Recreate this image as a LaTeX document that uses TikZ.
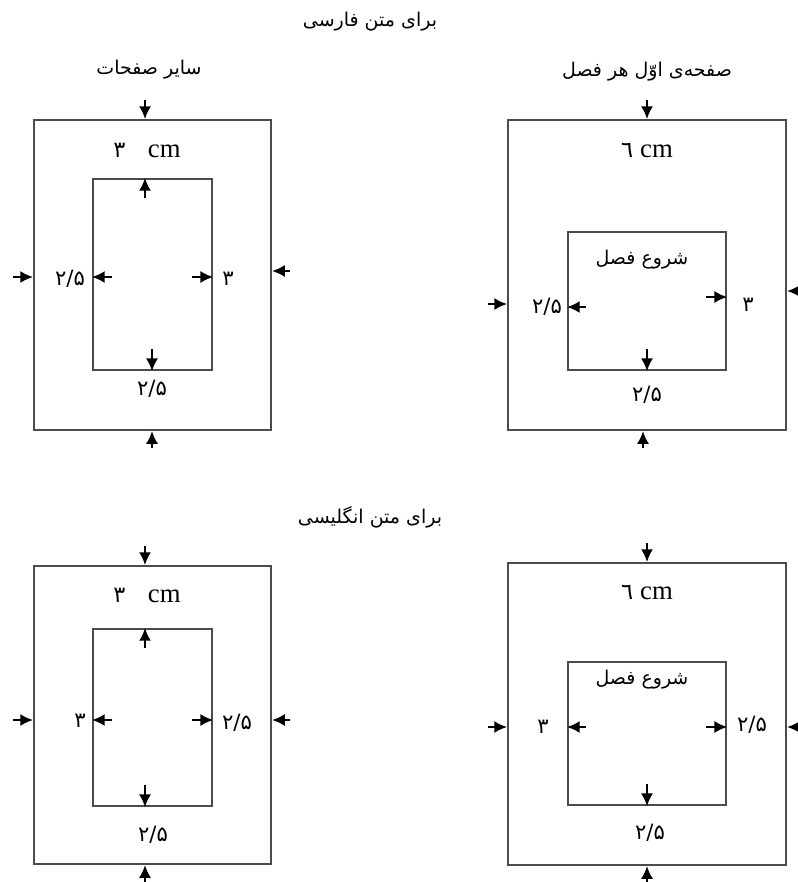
\documentclass[tikz,border=0pt]{standalone}
\usepackage{fontspec}
\setmainfont{Liberation Serif}
\newfontfamily\arabicfont[Script=Arabic]{DejaVu Sans}
\TeXXeTstate=1
\usetikzlibrary{arrows.meta, positioning, calc}

\tikzset{
  page/.style={draw=black!70, line width=1.5pt, inner sep=0pt, anchor=north west},
  margin arrow/.style={-{Latex[length=9pt,width=8.5pt]}, line width=1.3pt},
  fatext/.style={font=\arabicfont\fontsize{13.5}{15}\selectfont},
  numtext/.style={font=\arabicfont\fontsize{15}{17}\selectfont},
}

\begin{document}
\begin{tikzpicture}[x=0.025cm, y=-0.025cm]
\useasboundingbox (0,0) rectangle (797,882);

% Headings
\node[fatext] (hfa) at (370,22) {\beginR برای متن فارسی\endR};
\node[fatext] (hen) at (370,517) {\beginR برای متن انگلیسی\endR};

% ---- Persian, other pages ----
\node[fatext] (tfo) at (149,70) {\beginR سایر صفحات\endR};
\node[page, minimum width=237*0.025cm, minimum height=310*0.025cm] (fo) at (33,119) {};
\node[page, minimum width=119*0.025cm, minimum height=191*0.025cm] (foi) at (92,178) {};
\coordinate (foT) at (145,100);
\coordinate (foB) at (152,448);
\coordinate (foL) at (13,277);
\coordinate (foR) at (290,271);
\coordinate (foiT) at (145,198);
\coordinate (foiL) at (112,277);
\coordinate (foiR) at (192,277);
\coordinate (foiB) at (152,349);
\draw[margin arrow] (foT) -- (foT |- fo.north);
\draw[margin arrow] (foB) -- (foB |- fo.south);
\draw[margin arrow] (foL) -- (foL -| fo.west);
\draw[margin arrow] (foR) -- (foR -| fo.east);
\draw[margin arrow] (foiT) -- (foiT |- foi.north);
\draw[margin arrow] (foiL) -- (foiL -| foi.west);
\draw[margin arrow] (foiR) -- (foiR -| foi.east);
\draw[margin arrow] (foiB) -- (foiB |- foi.south);
\node (foc) at (147,150) {{\arabicfont\fontsize{16}{18}\selectfont ۳}\hspace{16pt}{\fontsize{19}{21}\selectfont cm}};
\node[numtext] (fol) at (70,279) {۲/۵};
\node[numtext] (for) at (228,279) {۳};
\node[numtext] (fob) at (152,389) {۲/۵};

% ---- Persian, first page of chapter ----
\node[fatext] (tff) at (647,72) {\beginR صفحه‌ی اوّل هر فصل\endR};
\node[page, minimum width=278*0.025cm, minimum height=310*0.025cm] (ff) at (507,119) {};
\node[page, minimum width=158*0.025cm, minimum height=138*0.025cm] (ffi) at (567,231) {};
\coordinate (ffT) at (647,100);
\coordinate (ffB) at (643,448);
\coordinate (ffL) at (488,304);
\coordinate (ffR) at (805,291);
\coordinate (ffiL) at (586,307);
\coordinate (ffiR) at (706,297);
\coordinate (ffiB) at (647,349);
\draw[margin arrow] (ffT) -- (ffT |- ff.north);
\draw[margin arrow] (ffB) -- (ffB |- ff.south);
\draw[margin arrow] (ffL) -- (ffL -| ff.west);
\draw[margin arrow] (ffR) -- (ffR -| ff.east);
\draw[margin arrow] (ffiL) -- (ffiL -| ffi.west);
\draw[margin arrow] (ffiR) -- (ffiR -| ffi.east);
\draw[margin arrow] (ffiB) -- (ffiB |- ffi.south);
\node (ffc) at (647,150) {{\arabicfont\fontsize{16}{18}\selectfont ٦}\hspace{5pt}{\fontsize{19}{21}\selectfont cm}};
\node[fatext] (ffs) at (642,260) {\beginR شروع فصل\endR};
\node[numtext] (ffl) at (547,307) {۲/۵};
\node[numtext] (ffr) at (748,305) {۳};
\node[numtext] (ffb) at (647,395) {۲/۵};

% ---- English, other pages ----
\node[page, minimum width=237*0.025cm, minimum height=298*0.025cm] (eo) at (33,565) {};
\node[page, minimum width=119*0.025cm, minimum height=177*0.025cm] (eoi) at (92,628) {};
\coordinate (eoT) at (145,546);
\coordinate (eoB) at (145,884);
\coordinate (eoL) at (13,720);
\coordinate (eoR) at (290,720);
\coordinate (eoiT) at (145,648);
\coordinate (eoiL) at (112,720);
\coordinate (eoiR) at (192,720);
\coordinate (eoiB) at (145,785);
\draw[margin arrow] (eoT) -- (eoT |- eo.north);
\draw[margin arrow] (eoB) -- (eoB |- eo.south);
\draw[margin arrow] (eoL) -- (eoL -| eo.west);
\draw[margin arrow] (eoR) -- (eoR -| eo.east);
\draw[margin arrow] (eoiT) -- (eoiT |- eoi.north);
\draw[margin arrow] (eoiL) -- (eoiL -| eoi.west);
\draw[margin arrow] (eoiR) -- (eoiR -| eoi.east);
\draw[margin arrow] (eoiB) -- (eoiB |- eoi.south);
\node (eoc) at (147,595) {{\arabicfont\fontsize{16}{18}\selectfont ۳}\hspace{16pt}{\fontsize{19}{21}\selectfont cm}};
\node[numtext] (eol) at (80,721) {۳};
\node[numtext] (eor) at (237,723) {۲/۵};
\node[numtext] (eob) at (153,835) {۲/۵};

% ---- English, first page of chapter ----
\node[page, minimum width=278*0.025cm, minimum height=302*0.025cm] (ef) at (507,562) {};
\node[page, minimum width=158*0.025cm, minimum height=143*0.025cm] (efi) at (567,661) {};
\coordinate (efT) at (647,543);
\coordinate (efB) at (647,884);
\coordinate (efL) at (488,727);
\coordinate (efR) at (805,727);
\coordinate (efiL) at (586,727);
\coordinate (efiR) at (706,727);
\coordinate (efiB) at (647,784);
\draw[margin arrow] (efT) -- (efT |- ef.north);
\draw[margin arrow] (efB) -- (efB |- ef.south);
\draw[margin arrow] (efL) -- (efL -| ef.west);
\draw[margin arrow] (efR) -- (efR -| ef.east);
\draw[margin arrow] (efiL) -- (efiL -| efi.west);
\draw[margin arrow] (efiR) -- (efiR -| efi.east);
\draw[margin arrow] (efiB) -- (efiB |- efi.south);
\node (efc) at (647,592) {{\arabicfont\fontsize{16}{18}\selectfont ٦}\hspace{5pt}{\fontsize{19}{21}\selectfont cm}};
\node[fatext] (efs) at (642,680) {\beginR شروع فصل\endR};
\node[numtext] (efl) at (543,727) {۳};
\node[numtext] (efr) at (752,725) {۲/۵};
\node[numtext] (efb) at (650,833) {۲/۵};
\end{tikzpicture}
\end{document}
